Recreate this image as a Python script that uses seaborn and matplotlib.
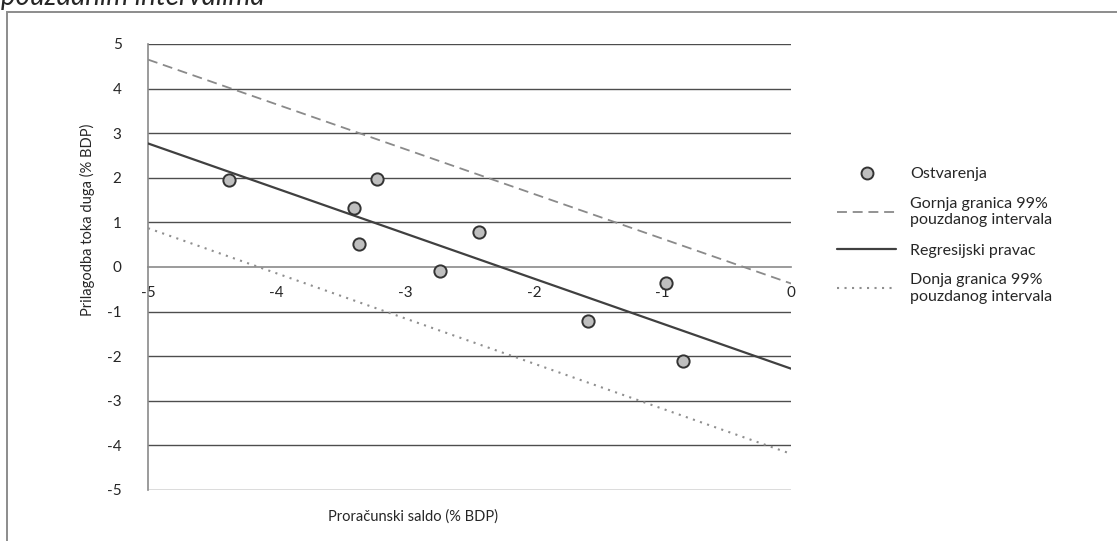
import numpy as np
import pandas as pd
import matplotlib
matplotlib.use("Agg")
import matplotlib.pyplot as plt
import matplotlib.patches as patches
from matplotlib.lines import Line2D
import seaborn as sns

# ── podaci ──
saldo = [-4.37, -3.40, -3.36, -3.22, -2.73, -2.43, -1.58, -0.97, -0.84]
prilagodba = [1.95, 1.32, 0.51, 1.98, -0.10, 0.79, -1.20, -0.36, -2.11]

x_line = [-5, 0]
reg_line = [2.77, -2.28]      # regresijski pravac
upper_line = [4.65, -0.37]    # gornja granica 99%
lower_line = [0.87, -4.19]    # donja granica 99%

x_ticks = [-5, -4, -3, -2, -1, 0]
y_ticks = [-5, -4, -3, -2, -1, 0, 1, 2, 3, 4, 5]

# ── stil ──
sns.set_style("white")
plt.rcParams["font.family"] = ["Lato", "DejaVu Sans"]

GRID = "#4d4d4d"
AXIS = "#8a8a8a"
TXT = "#262626"
DASH = [5.5, 3.2]
DOT = [1.0, 2.6]

fig = plt.figure(figsize=(11.17, 5.41), dpi=100)
ax = fig.add_axes([0.1325, 0.0943, 0.5757, 0.8244])

# vodoravne linije mreže
for yv in y_ticks:
    if yv != 0:
        ax.axhline(yv, color=GRID, lw=1.0, zorder=1)

df_lines = pd.DataFrame({"x": x_line, "reg": reg_line,
                         "upper": upper_line, "lower": lower_line})

sns.lineplot(data=df_lines, x="x", y="upper", ax=ax, color="#8a8a8a",
             lw=1.3, zorder=3).lines[-1].set_dashes(DASH)
sns.lineplot(data=df_lines, x="x", y="reg", ax=ax, color="#404040",
             lw=1.6, zorder=3)
sns.lineplot(data=df_lines, x="x", y="lower", ax=ax, color="#8f8f8f",
             lw=1.5, zorder=3).lines[-1].set_dashes(DOT)

sns.scatterplot(x=saldo, y=prilagodba, ax=ax, s=78, color="#bfbfbf",
                edgecolor="#333333", linewidth=1.4, zorder=5)

ax.set_xlim(-5, 0)
ax.set_ylim(-5, 5)

# osi
ax.spines["top"].set_visible(False)
ax.spines["right"].set_visible(False)
ax.spines["left"].set_color(AXIS)
ax.spines["left"].set_linewidth(1.2)
ax.spines["bottom"].set_position(("data", 0))
ax.spines["bottom"].set_color(AXIS)
ax.spines["bottom"].set_linewidth(1.2)

ax.set_xticks(x_ticks)
ax.set_xticklabels([str(v) for v in x_ticks])
ax.set_yticks(y_ticks)
ax.set_yticklabels([str(v) for v in y_ticks])
ax.tick_params(axis="x", direction="out", length=4, width=1, color="#555555",
               pad=10, labelsize=11, labelcolor=TXT)
ax.tick_params(axis="y", direction="out", length=3, width=1, color=AXIS,
               pad=16, labelsize=11, labelcolor=TXT)
for lbl in ax.get_xticklabels():
    lbl.set_zorder(6)
ax.set_xlabel("")
ax.set_ylabel("")

fig.text(87 / 1117, 1 - 220 / 541, "Prilagodba toka duga (% BDP)",
         rotation=90, ha="center", va="center", fontsize=10.5, color=TXT)
fig.text(413 / 1117, 1 - 517 / 541, "Proračunski saldo (% BDP)",
         ha="center", va="center", fontsize=10.5, color=TXT)

# naslov (odrezan na vrhu, kao u izvorniku)
fig.text(0.001, 1 - 5 / 541, "pouzdanim intervalima", style="italic",
         ha="left", va="baseline", fontsize=20, color=TXT)

# vanjski okvir
fig.patches.append(patches.Rectangle((7 / 1117, -0.1), 1.2, 1.1 - 12 / 541,
                                     transform=fig.transFigure, fill=False,
                                     edgecolor="#8c8c8c", lw=1.4))

# legenda
handles = [
    Line2D([], [], ls="none", marker="o", markersize=8.6, markerfacecolor="#bfbfbf",
           markeredgecolor="#333333", markeredgewidth=1.4),
    Line2D([], [], color="#8a8a8a", lw=1.3, dashes=DASH),
    Line2D([], [], color="#404040", lw=1.6),
    Line2D([], [], color="#8f8f8f", lw=1.5, dashes=DOT),
]
labels = ["Ostvarenja", "Gornja granica 99%\npouzdanog intervala",
          "Regresijski pravac", "Donja granica 99%\npouzdanog intervala"]
fig.legend(handles, labels, loc="upper left",
           bbox_to_anchor=(837 / 1117, 1 - 167 / 541), frameon=False,
           fontsize=11.5, handlelength=3.7, handletextpad=0.9,
           labelspacing=1.0, borderpad=0, borderaxespad=0, labelcolor=TXT)

fig.savefig("out.png", dpi=100)
